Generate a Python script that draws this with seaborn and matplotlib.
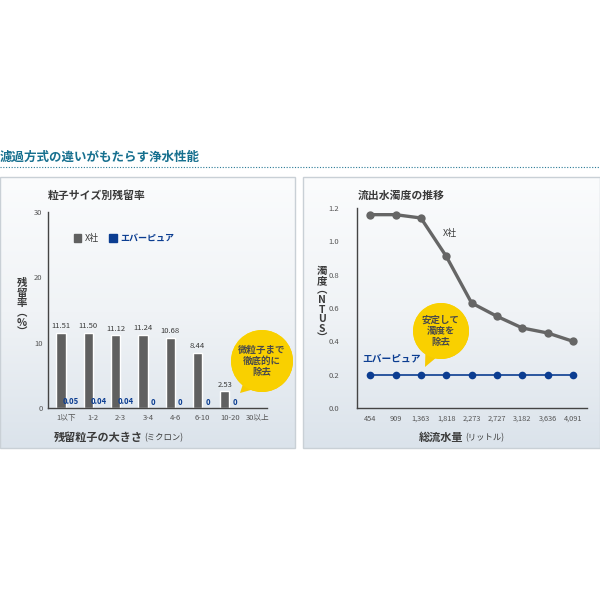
import numpy as np
import pandas as pd
import seaborn as sns
import matplotlib.pyplot as plt
from matplotlib.colors import LinearSegmentedColormap
from matplotlib.patches import Circle, Polygon, Rectangle, Patch

# データ: 粒子サイズ別残留率 (30以上は値なし)
sizes = ['1以下', '1-2', '2-3', '3-4', '4-6', '6-10', '10-20', '30以上']
x_sha = [11.51, 11.50, 11.12, 11.24, 10.68, 8.44, 2.53]
everpure = [0.05, 0.04, 0.04, 0, 0, 0, 0]
bar_labels_x = ['11.51', '11.50', '11.12', '11.24', '10.68', '8.44', '2.53']
bar_labels_e = ['0.05', '0.04', '0.04', '0', '0', '0', '0']

# データ: 流出水濁度の推移
flow = ['454', '909', '1,363', '1,818', '2,273', '2,727', '3,182', '3,636', '4,091']
turb_x = [1.16, 1.16, 1.14, 0.91, 0.63, 0.55, 0.48, 0.45, 0.40]
turb_e = [0.2, 0.2, 0.2, 0.2, 0.2, 0.2, 0.2, 0.2, 0.2]

GRAY = '#606060'
BLUE = '#0b3d91'
TXT = '#3a3a3a'

sns.set_theme(style='white')
plt.rcParams['font.family'] = ['Noto Sans CJK JP', 'DejaVu Sans']

fig = plt.figure(figsize=(6, 6), dpi=100)
fig.patch.set_facecolor('white')

# 背景 (ピクセル座標)
bg = fig.add_axes([0, 0, 1, 1], zorder=0)
bg.set_xlim(0, 600)
bg.set_ylim(600, 0)
bg.axis('off')
grad = LinearSegmentedColormap.from_list('g', ['#fbfcfd', '#f0f3f6', '#dbe3eb'])
g = np.linspace(0, 1, 256).reshape(-1, 1)
for x0, x1 in [(0, 295), (303, 600)]:
    bg.imshow(g, cmap=grad, extent=(x0, x1, 448, 177), aspect='auto')
    bg.add_patch(Rectangle((x0, 177), x1 - x0, 271, fill=False, ec='#c9d0d6', lw=1))
bg.text(0, 157, '濾過方式の違いがもたらす浄水性能', fontsize=9, fontweight='bold',
        color='#17708f', va='center', ha='left')
bg.plot([0, 600], [167, 167], ls=(0, (1, 1.5)), color='#2a7a96', lw=0.8)
bg.set_xlim(0, 600)
bg.set_ylim(600, 0)

# 左: 棒グラフ
n = len(x_sha)
df_bar = pd.DataFrame({
    'size': sizes[:n] * 2,
    'val': x_sha + everpure,
    'maker': ['X社'] * n + ['エバーピュア'] * n,
})
ax1 = fig.add_axes([48 / 600, 1 - 408 / 600, 219 / 600, 196 / 600], zorder=1)
ax1.patch.set_alpha(0)
sns.barplot(data=df_bar, x='size', y='val', hue='maker', order=sizes,
            hue_order=['X社', 'エバーピュア'],
            palette={'X社': GRAY, 'エバーピュア': BLUE}, width=0.74, gap=0.08,
            saturation=1, ax=ax1, legend=False)
ax1.bar_label(ax1.containers[0], labels=bar_labels_x, fontsize=5.5, color=TXT, padding=2)
ax1.bar_label(ax1.containers[1], labels=bar_labels_e, fontsize=5.5, color=BLUE,
              padding=1, fontweight='bold')
ax1.set_ylim(0, 30)
ax1.set_xlim(-0.66, 7.36)
ax1.set_yticks([0, 10, 20, 30])
ax1.set_xlabel('')
ax1.set_ylabel('')
ax1.tick_params(axis='both', labelsize=5.5, colors='#555555', length=0, pad=4)
for s in ['top', 'right']:
    ax1.spines[s].set_visible(False)
for s in ['left', 'bottom']:
    ax1.spines[s].set_color('#444444')
    ax1.spines[s].set_linewidth(1)
leg = ax1.legend(handles=[Patch(color=GRAY, label='X社'), Patch(color=BLUE, label='エバーピュア')],
                 loc='upper left', bbox_to_anchor=(0.08, 0.93), ncol=2, frameon=False,
                 fontsize=6.5, handlelength=0.8, handleheight=0.9, handletextpad=0.4,
                 columnspacing=1.2)
leg.get_texts()[0].set_color(TXT)
leg.get_texts()[1].set_color(BLUE)
leg.get_texts()[1].set_fontweight('bold')

# 右: 折れ線グラフ
idx = list(range(len(flow)))
df_line = pd.DataFrame({
    'pos': idx * 2,
    'val': turb_x + turb_e,
    'maker': ['X社'] * len(flow) + ['エバーピュア'] * len(flow),
})
ax2 = fig.add_axes([357 / 600, 1 - 408 / 600, 230 / 600, 200 / 600], zorder=1)
ax2.patch.set_alpha(0)
sns.lineplot(data=df_line[df_line.maker == 'X社'], x='pos', y='val', color='#666666',
             lw=2.4, marker='o', markersize=6, markeredgewidth=0, ax=ax2)
sns.lineplot(data=df_line[df_line.maker == 'エバーピュア'], x='pos', y='val', color=BLUE,
             lw=1.2, marker='o', markersize=5.5, markeredgewidth=0, ax=ax2)
ax2.set_ylim(0, 1.2)
ax2.set_xlim(-0.52, 8.55)
ax2.set_yticks([0, 0.2, 0.4, 0.6, 0.8, 1.0, 1.2])
ax2.set_yticklabels(['0.0', '0.2', '0.4', '0.6', '0.8', '1.0', '1.2'])
ax2.set_xticks(idx)
ax2.set_xticklabels(flow)
ax2.set_xticks([i + 0.5 for i in idx[:-1]] + [8.55], minor=True)
ax2.tick_params(axis='x', which='major', length=0, labelsize=5.3, colors='#555555', pad=5)
ax2.tick_params(axis='x', which='minor', direction='in', length=4, width=0.9, color='#444444')
ax2.tick_params(axis='y', labelsize=5.5, colors='#555555', length=3, width=0.8,
                color='#666666', direction='out', pad=10)
ax2.set_xlabel('')
ax2.set_ylabel('')
for s in ['top', 'right']:
    ax2.spines[s].set_visible(False)
for s in ['left', 'bottom']:
    ax2.spines[s].set_color('#444444')
    ax2.spines[s].set_linewidth(1)
ax2.text(2.85, 1.05, 'X社', fontsize=6.5, color=TXT, ha='left', va='center')
ax2.text(-0.3, 0.30, 'エバーピュア', fontsize=7, color=BLUE, fontweight='bold',
         ha='left', va='center')

# 前面: タイトル・軸ラベル・吹き出し
top = fig.add_axes([0, 0, 1, 1], zorder=2)
top.axis('off')
top.text(48, 196, '粒子サイズ別残留率', fontsize=7.8, fontweight='bold', color=TXT, va='center')
top.text(358, 196, '流出水濁度の推移', fontsize=7.8, fontweight='bold', color=TXT, va='center')
top.text(22, 308, '\n'.join(['残', '留', '率', '︵', '%', '︶']), fontsize=7.5,
         fontweight='bold', color=TXT, ha='center', va='center', linespacing=1.0)
top.text(322, 305, '\n'.join(['濁', '度', '︵', 'N', 'T', 'U', 'S', '︶']), fontsize=7.5,
         fontweight='bold', color=TXT, ha='center', va='center', linespacing=0.95)
top.text(143, 437, '残留粒子の大きさ', fontsize=8, fontweight='bold', color=TXT,
         ha='right', va='center')
top.text(144, 438, '(ミクロン)', fontsize=6, color=TXT, ha='left', va='center')
top.text(463, 437, '総流水量', fontsize=8, fontweight='bold', color=TXT,
         ha='right', va='center')
top.text(465, 438, '(リットル)', fontsize=6, color=TXT, ha='left', va='center')

ycm = LinearSegmentedColormap.from_list('y', ['#fff58a', '#ffe31a', '#f5c400'])


def bubble(cx, cy, r, tail, text):
    tri = Polygon([(tail[0], tail[1]), (cx - r * 0.55, cy + r * 0.55),
                   (cx - r * 0.05, cy + r * 0.85)], closed=True, fc='#f7ca00', ec='none')
    top.add_patch(tri)
    circ = Circle((cx, cy), r, fc='#f9d000', ec='none')
    top.add_patch(circ)
    yy, xx = np.mgrid[-1:1:120j, -1:1:120j]
    d = np.sqrt((xx + 0.25) ** 2 + (yy + 0.3) ** 2)
    im = top.imshow(d, cmap=ycm, vmin=0, vmax=1.4, extent=(cx - r, cx + r, cy + r, cy - r),
                    aspect='auto')
    im.set_clip_path(circ)
    top.text(cx, cy, text, fontsize=6.8, fontweight='bold', color='#4a4a4a', ha='center',
             va='center', linespacing=1.15)


bubble(262, 361, 31, (240, 393), '微粒子まで\n徹底的に\n除去')
bubble(441, 331, 28, (425, 367), '安定して\n濁度を\n除去')
top.set_xlim(0, 600)
top.set_ylim(600, 0)

fig.savefig('out.png', dpi=100)
